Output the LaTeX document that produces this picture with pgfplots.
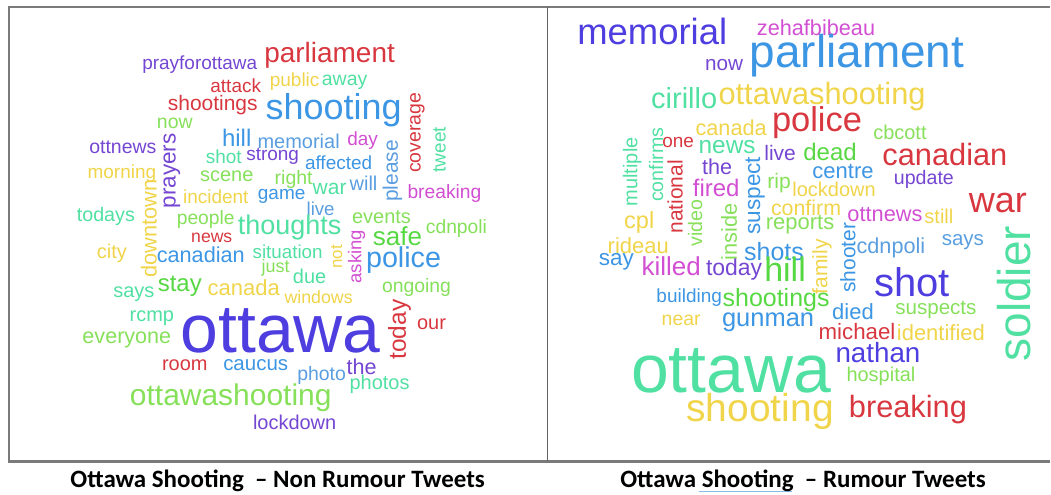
\documentclass[border=0pt]{standalone}
\usepackage{fontspec}
\setmainfont{Liberation Sans}
\newfontfamily\capfont{Carlito}
\usepackage{graphicx}
\usepackage{pgfplots}
\pgfplotsset{compat=1.18}

\definecolor{cR}{HTML}{D8373F}
\definecolor{cY}{HTML}{F0D44A}
\definecolor{cLG}{HTML}{86E05A}
\definecolor{cG}{HTML}{56D842}
\definecolor{cT}{HTML}{50E0A2}
\definecolor{cSB}{HTML}{3C96E4}
\definecolor{cLB}{HTML}{5A9EE0}
\definecolor{cP}{HTML}{4E3EE0}
\definecolor{cV}{HTML}{7446D2}
\definecolor{cM}{HTML}{D24ED2}
\definecolor{framegray}{HTML}{7A7A7A}

% one word: size (px), colour, rotation, text
\newcommand\w[4]{\rotatebox{#3}{\fontsize{#1}{#1}\selectfont\color{#2}#4}}

\pgfplotsset{cloud/.style={draw=none, mark=none, nodes near coords={\pgfplotspointmeta},
    point meta=explicit symbolic,
    nodes near coords style={anchor=center, inner sep=0pt, outer sep=0pt}}}

\begin{document}
\begin{tikzpicture}
\begin{axis}[
    scale only axis,
    width=1051pt, height=495pt,
    xmin=0, xmax=1051, ymin=0, ymax=495,
    y dir=reverse,
    hide axis,
    clip=false,
]
% keeps the page at full size
\addplot[draw=none, mark=none] coordinates {(0,0) (1051,495)};

% panel frames
\addplot[framegray, line width=2.5pt, mark=none] coordinates {(9,462) (9,7) (1051,7)};
\addplot[framegray, line width=2.5pt, mark=none] coordinates {(8,462) (1051,462)};
\addplot[framegray!80!black, line width=1.2pt, mark=none] coordinates {(548,7) (548,462)};

% non rumour tweets
\addplot[cloud] coordinates {
(200,65) [\w{19}{cV}{0}{prayforottawa}]
(236,86) [\w{19}{cR}{0}{attack}]
(213,105) [\w{21}{cR}{0}{shootings}]
(330,55) [\w{28}{cR}{0}{parliament}]
(295,82) [\w{19}{cY}{0}{public}]
(345,82) [\w{19.5}{cT}{0}{away}]
(334,110) [\w{36}{cSB}{0}{shooting}]
(418,133) [\w{19.5}{cR}{90}{coverage}]
(440,150) [\w{19}{cT}{90}{tweet}]
(175,124) [\w{19.5}{cLG}{0}{now}]
(123,147) [\w{19.5}{cV}{0}{ottnews}]
(172,171) [\w{22.5}{cV}{90}{prayers}]
(237,138) [\w{24}{cSB}{0}{hill}]
(299,142) [\w{20}{cLB}{0}{memorial}]
(363,141) [\w{19}{cM}{0}{day}]
(224,157) [\w{19}{cT}{0}{shot}]
(273,157) [\w{19}{cV}{0}{strong}]
(339,163) [\w{19}{cSB}{0}{affected}]
(393,171) [\w{21}{cLB}{90}{please}]
(122,174) [\w{19}{cY}{0}{morning}]
(227,176) [\w{20}{cLG}{0}{scene}]
(294,180) [\w{19.5}{cLG}{0}{right}]
(330,189) [\w{21}{cT}{0}{war}]
(364,183) [\w{20}{cLB}{0}{will}]
(445,194) [\w{19.3}{cM}{0}{breaking}]
(216,197) [\w{19}{cY}{0}{incident}]
(282,197) [\w{19}{cSB}{0}{game}]
(321,209) [\w{18.7}{cLB}{0}{live}]
(106,217) [\w{19.7}{cT}{0}{todays}]
(206,220) [\w{19.3}{cLG}{0}{people}]
(290,228) [\w{27}{cT}{0}{thoughts}]
(382,217) [\w{20}{cLG}{0}{events}]
(457,229) [\w{19.3}{cLG}{0}{cdnpoli}]
(398,237) [\w{26}{cG}{0}{safe}]
(149,229) [\w{21.8}{cY}{90}{downtown}]
(212,238) [\w{17.6}{cR}{0}{news}]
(112,254) [\w{20}{cY}{0}{city}]
(201,255) [\w{21.7}{cSB}{0}{canadian}]
(288,252) [\w{18.8}{cT}{0}{situation}]
(337,257) [\w{17}{cY}{90}{not}]
(357,257) [\w{18.5}{cM}{90}{asking}]
(404,260) [\w{28.7}{cSB}{0}{police}]
(276,268) [\w{18}{cLG}{0}{just}]
(310,277) [\w{20}{cT}{0}{due}]
(180,287) [\w{24}{cG}{0}{stay}]
(134,295) [\w{20}{cT}{0}{says}]
(244,288) [\w{22}{cY}{0}{canada}]
(319,297) [\w{17.8}{cY}{0}{windows}]
(417,288) [\w{19.4}{cLG}{0}{ongoing}]
(152,319) [\w{20}{cT}{0}{rcmp}]
(127,340) [\w{21.6}{cLG}{0}{everyone}]
(281,331) [\w{68}{cP}{0}{ottawa}]
(400,330) [\w{24.5}{cR}{90}{today}]
(432,325) [\w{20}{cR}{0}{our}]
(185,366) [\w{20}{cR}{0}{room}]
(256,366) [\w{20.5}{cSB}{0}{caucus}]
(362,367) [\w{21.6}{cV}{0}{the}]
(322,376) [\w{19.5}{cLB}{0}{photo}]
(380,385) [\w{20}{cT}{0}{photos}]
(231,398) [\w{30}{cLG}{0}{ottawashooting}]
(295,423) [\w{20}{cV}{0}{lockdown}]
};

% rumour tweets
\addplot[cloud] coordinates {
(653,32) [\w{36.5}{cP}{0}{memorial}]
(817,28) [\w{21.7}{cM}{0}{zehafbibeau}]
(725,65) [\w{20.7}{cV}{0}{now}]
(858,56) [\w{46}{cSB}{0}{parliament}]
(685,98) [\w{29}{cT}{0}{cirillo}]
(823,97) [\w{30.8}{cY}{0}{ottawashooting}]
(732,128) [\w{21.7}{cY}{0}{canada}]
(818,123) [\w{34.5}{cR}{0}{police}]
(901,133) [\w{20}{cLG}{0}{cbcott}]
(946,155) [\w{30.8}{cR}{0}{canadian}]
(633,172) [\w{20}{cT}{90}{multiple}]
(657,165) [\w{19.6}{cT}{90}{confirms}]
(679,143) [\w{19}{cR}{0}{one}]
(728,147) [\w{24.4}{cT}{0}{news}]
(676,197) [\w{21}{cR}{90}{national}]
(718,167) [\w{21.6}{cV}{0}{the}]
(781,153) [\w{21}{cV}{0}{live}]
(831,152) [\w{24}{cG}{0}{dead}]
(756,196) [\w{22.6}{cSB}{90}{suspect}]
(717,188) [\w{24}{cM}{0}{fired}]
(844,172) [\w{22}{cSB}{0}{centre}]
(925,180) [\w{19.6}{cV}{0}{update}]
(780,183) [\w{21}{cLG}{0}{rip}]
(835,190) [\w{20}{cY}{0}{lockdown}]
(696,223) [\w{19.6}{cLG}{90}{video}]
(730,232) [\w{21.8}{cLG}{90}{inside}]
(807,208) [\w{21.4}{cY}{0}{confirm}]
(801,225) [\w{22}{cLG}{0}{reports}]
(886,215) [\w{21.8}{cM}{0}{ottnews}]
(940,217) [\w{20}{cY}{0}{still}]
(640,223) [\w{23.5}{cY}{0}{cpl}]
(639,246) [\w{22}{cY}{0}{rideau}]
(775,252) [\w{25}{cSB}{0}{shots}]
(823,267) [\w{21}{cY}{90}{family}]
(849,258) [\w{21}{cSB}{90}{shooter}]
(892,248) [\w{21.7}{cLB}{0}{cdnpoli}]
(964,242) [\w{20.5}{cLB}{0}{says}]
(1015,294) [\w{46}{cT}{90}{soldier}]
(999,203) [\w{36}{cR}{0}{war}]
(617,262) [\w{22.5}{cSB}{0}{say}]
(672,267) [\w{26}{cM}{0}{killed}]
(735,270) [\w{23}{cV}{0}{today}]
(786,270) [\w{34}{cG}{0}{hill}]
(690,298) [\w{19}{cSB}{0}{building}]
(777,300) [\w{25}{cG}{0}{shootings}]
(682,321) [\w{19.5}{cY}{0}{near}]
(769,323) [\w{25.5}{cSB}{0}{gunman}]
(854,312) [\w{22}{cSB}{0}{died}]
(913,283) [\w{40}{cP}{0}{shot}]
(937,310) [\w{20.6}{cLG}{0}{suspects}]
(858,332) [\w{22.3}{cR}{0}{michael}]
(942,333) [\w{22}{cY}{0}{identified}]
(879,353) [\w{27.8}{cP}{0}{nathan}]
(882,377) [\w{20}{cLG}{0}{hospital}]
(732,371) [\w{68}{cT}{0}{ottawa}]
(761,412) [\w{39}{cY}{0}{shooting}]
(909,410) [\w{30.8}{cR}{0}{breaking}]
};

% captions
\addplot[draw=none, mark=none,
    nodes near coords={\pgfplotspointmeta},
    point meta=explicit symbolic,
    nodes near coords style={anchor=base, inner sep=0pt, text=black,
        font=\capfont\bfseries\fontsize{25}{25}\selectfont},
] coordinates {(278,488) [Ottawa Shooting\ \ – Non Rumour Tweets]
               (804,488) [Ottawa Shooting\ \ – Rumour Tweets]};
\addplot[color=cLB!70!white, line width=1.5pt, mark=none] coordinates {(700,492) (793,492)};
\end{axis}
\end{tikzpicture}
\end{document}
